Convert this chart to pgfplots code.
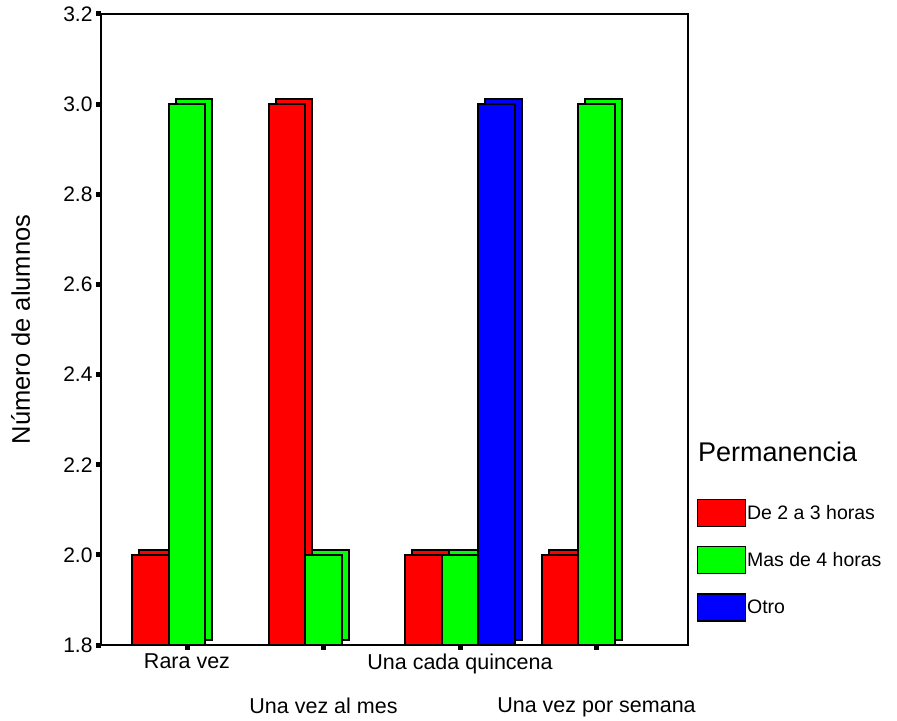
\documentclass[border=0pt]{standalone}
\usepackage{pgfplots}
\pgfplotsset{compat=1.18}
\usepackage{pgfplotstable}
\usepackage{fontspec}
\setmainfont{Liberation Sans}
\definecolor{cred}{RGB}{255,0,0}
\definecolor{cgreen}{RGB}{0,255,0}
\definecolor{cblue}{RGB}{0,0,255}
\pgfplotstableread{
x y
0 2
1 3
2 2
3 2
}\tred
\pgfplotstableread{
x y
0 3
1 2
2 2
3 3
}\tgreen
\pgfplotstableread{
x y
2 3
}\tblue
\begin{document}
\begin{tikzpicture}
\begin{axis}[
  at={(101pt,72pt)}, anchor=south west,
  scale only axis, width=587pt, height=631pt,
  xmin=-0.63, xmax=3.67, ymin=1.8, ymax=3.2,
  ybar, bar width=36.5pt,
  axis on top, clip mode=individual,
  axis line style={line width=1.6pt, black},
  xtick={0,2}, xticklabels={Rara vez, Una cada quincena},
  extra x ticks={1,3}, extra x tick labels={Una vez al mes, Una vez por semana},
  extra x tick style={xticklabel style={yshift=-44pt}},
  xtick pos=lower, ytick pos=left,
  ytick={1.8,2.0,2.2,2.4,2.6,2.8,3.0,3.2},
  tick align=outside, major tick length=5pt,
  tick style={line width=5pt, black},
  yticklabel style={/pgf/number format/.cd, fixed, fixed zerofill, precision=1, assume math mode=true},
  tick label style={font=\fontsize{21}{24}\selectfont},
  xticklabel style={font=\fontsize{21.5}{24}\selectfont},
  ylabel={Número de alumnos},
  ylabel style={at={(axis description cs:-0.137,0.5)}, anchor=center, font=\fontsize{25.5}{28}\selectfont},
  legend style={draw=none, fill=none, at={(axis description cs:1.015,0.232)}, anchor=north west,
    inner sep=0pt, outer sep=0pt, row sep=19pt,
    font=\fontsize{19.5}{22}\selectfont, nodes={inner sep=1pt, anchor=west}},
  legend cell align=left,
  legend image code/.code={\draw[#1, draw=black, line width=1.3pt] (0pt,-13.5pt) rectangle (48pt,13.5pt);},
]
% back (depth) faces
\addplot[forget plot, fill=cred, draw=black, line width=1.7pt, bar shift=-29.5pt, yshift=5pt] table[x=x,y=y] {\tred};
\addplot[forget plot, fill=cgreen, draw=black, line width=1.7pt, bar shift=7pt, yshift=5pt] table[x=x,y=y] {\tgreen};
\addplot[forget plot, fill=cblue, draw=black, line width=1.7pt, bar shift=43.5pt, yshift=5pt] table[x=x,y=y] {\tblue};
% front faces
\addplot[fill=cred, draw=black, line width=1.7pt, bar shift=-36.5pt] table[x=x,y=y] {\tred};
\addplot[fill=cgreen, draw=black, line width=1.7pt, bar shift=0pt] table[x=x,y=y] {\tgreen};
\addplot[fill=cblue, draw=black, line width=1.7pt, bar shift=36.5pt] table[x=x,y=y] {\tblue};
\legend{De 2 a 3 horas, Mas de 4 horas, Otro}
\node[anchor=base west, inner sep=0pt, font=\fontsize{27}{30}\selectfont] at (axis description cs:1.017,0.2916) {Permanencia};
\end{axis}
\path[use as bounding box] (0,0) rectangle (897pt,717pt);
\end{tikzpicture}
\end{document}
